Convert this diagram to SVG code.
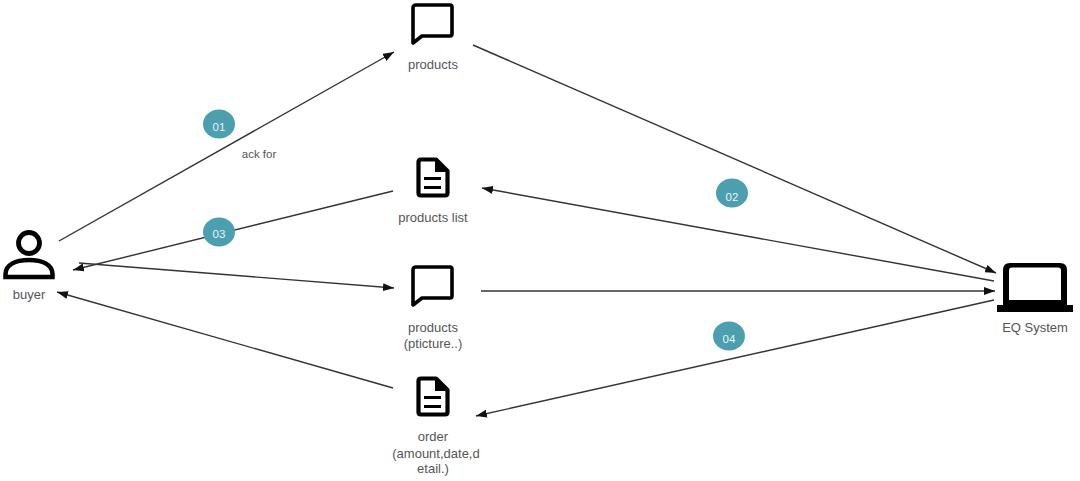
<svg xmlns="http://www.w3.org/2000/svg" width="1080" height="481" viewBox="0 0 1080 481">
<style>
text{font-family:"Liberation Sans",Arial,sans-serif;font-size:13px;fill:#555;text-anchor:middle}
.c{fill:none;stroke:#333;stroke-width:1.4}
.k{fill:none;stroke:#000;stroke-width:3.6;stroke-linejoin:round}
.b{fill:#4b9fae}
text.n{fill:#e8f4f6;font-size:11.5px}
</style>
<defs>
<marker id="a" markerUnits="userSpaceOnUse" markerWidth="12" markerHeight="8" refX="11" refY="4" orient="auto"><path d="M0 0L11 4L0 8z" fill="#111"/></marker>
<symbol id="chat" viewBox="0 0 43 42" overflow="visible"><path class="k" d="M5 2H39Q41 2 41 4V31Q41 33 39 33H11L2 40V5Q2 2 5 2Z"/></symbol>
<symbol id="doc" viewBox="0 0 34 42" overflow="visible"><path class="k" style="stroke-width:4.200" d="M5 2.500H20L31.500 14V36Q31.500 38.500 29 38.500H5Q2.500 38.500 2.500 36V5Q2.500 2.500 5 2.500Z"/><path d="M19 1L33 15H19Z" fill="#000"/><path d="M8 21.500H25M8 30.500H25" stroke="#000" stroke-width="3.200" fill="none"/></symbol>
</defs>
<rect width="1080" height="481" fill="#fff"/>
<g id="connectors">
<path class="c" marker-end="url(#a)" d="M59 241L394 52"/>
<path class="c" marker-end="url(#a)" d="M473 45L996 273"/>
<path class="c" marker-end="url(#a)" d="M393 191L73 270"/>
<path class="c" marker-end="url(#a)" d="M994 281L482 188"/>
<path class="c" marker-end="url(#a)" d="M79 263L394 288"/>
<path class="c" marker-end="url(#a)" d="M481 291L995 291"/>
<path class="c" marker-end="url(#a)" d="M994 300L476 416"/>
<path class="c" marker-end="url(#a)" d="M393 388L57 292"/>
</g>
<g id="buyer">
<circle cx="29" cy="243" r="10.500" fill="none" stroke="#000" stroke-width="4.800"/>
<path d="M5.500 277V274C5.500 265 15 260 29 260S52.500 265 52.500 274V277Z" fill="none" stroke="#000" stroke-width="4.500"/>
<text x="29" y="299">buyer</text>
</g>
<g id="products"><use href="#chat" x="411" y="3" width="43" height="42"/><text x="433" y="69">products</text></g>
<g id="products-list"><use href="#doc" x="416" y="157" width="34" height="42"/><text x="433" y="222">products list</text></g>
<g id="products-picture"><use href="#chat" x="411" y="265" width="43" height="42"/><text x="433" y="332">products</text><text x="433" y="348">(pticture..)</text></g>
<g id="order"><use href="#doc" x="416" y="376" width="34" height="42"/><text x="433" y="441">order</text><text x="436" y="458">(amount,date,d</text><text x="433" y="473">etail.)</text></g>
<g id="eq-system">
<path fill-rule="evenodd" fill="#000" d="M1010 263H1060Q1067 263 1067 270V305H1073V312H997V305H1003V270Q1003 263 1010 263ZM1012 267.500Q1009 267.500 1009 270.500V300H1061V270.500Q1061 267.500 1058 267.500Z"/>
<text x="1035" y="332">EQ System</text>
</g>
<g id="label-ack"><text x="259" y="158" style="font-size:11.500px">ack for</text></g>
<g id="badge-01"><ellipse class="b" cx="219" cy="124" rx="16" ry="14.500"/><text class="n" x="219" y="131">01</text></g>
<g id="badge-03"><ellipse class="b" cx="219" cy="232" rx="16" ry="14.500"/><text class="n" x="219" y="238">03</text></g>
<g id="badge-02"><ellipse class="b" cx="732" cy="193" rx="16" ry="14.500"/><text class="n" x="732" y="201">02</text></g>
<g id="badge-04"><ellipse class="b" cx="729" cy="336" rx="16" ry="14.500"/><text class="n" x="729" y="343">04</text></g>
</svg>
